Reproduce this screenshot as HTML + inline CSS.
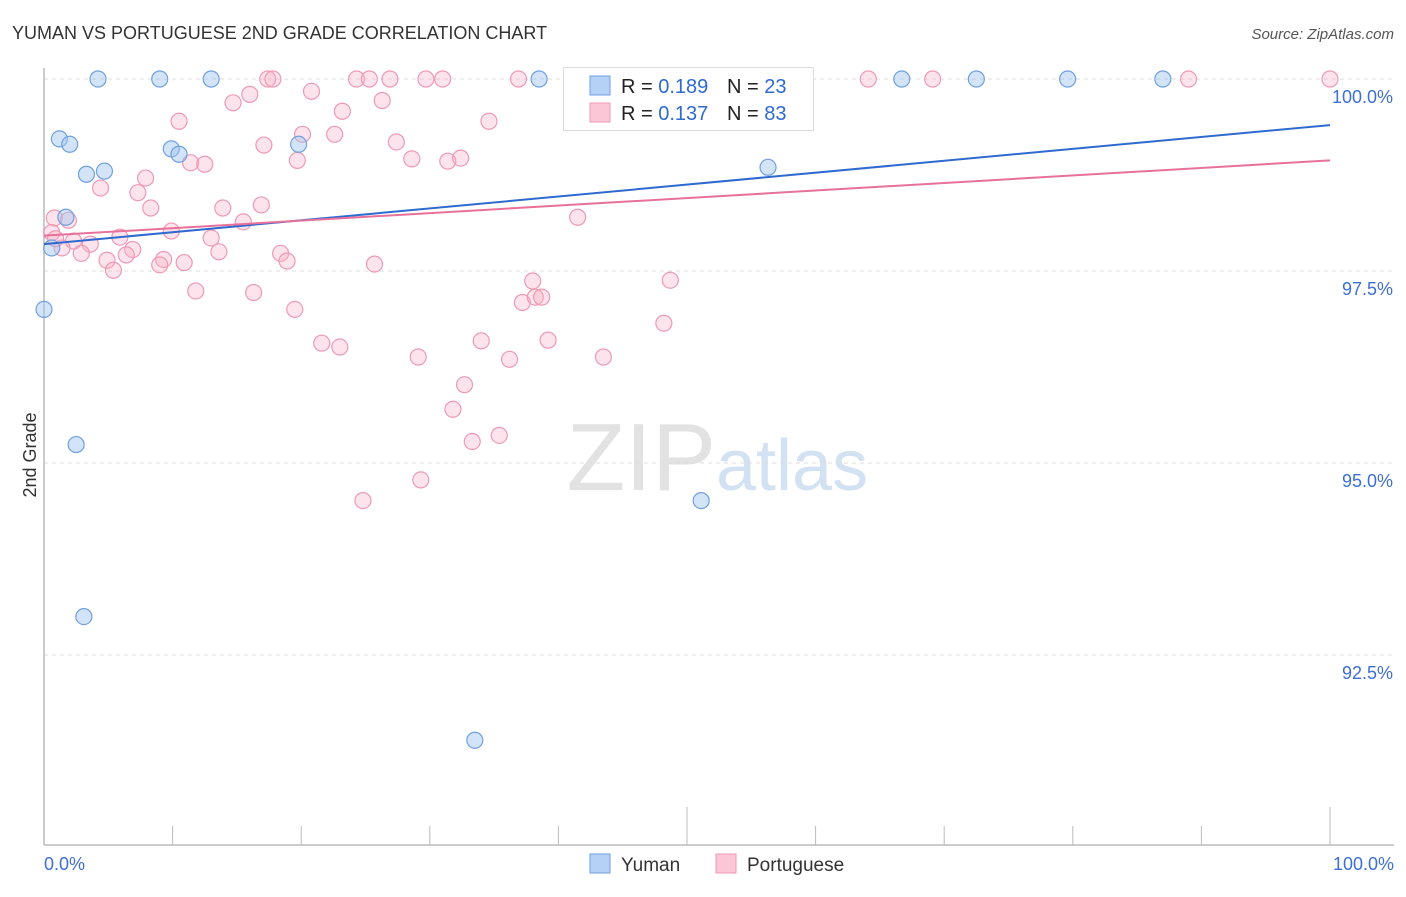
<!DOCTYPE html>
<html><head><meta charset="utf-8"><style>
body{margin:0;background:#fff;font-family:"Liberation Sans",sans-serif;}
svg text{font-family:"Liberation Sans",sans-serif;}
</style></head><body>
<svg id="chart" width="1406" height="892" viewBox="0 0 1406 892" xmlns="http://www.w3.org/2000/svg">
<text x="12" y="39" font-size="18" fill="#333">YUMAN VS PORTUGUESE 2ND GRADE CORRELATION CHART</text>
<text x="1394" y="39" font-size="15" fill="#555" font-style="italic" text-anchor="end">Source: ZipAtlas.com</text>
<text x="716" y="490" font-size="96" fill="#e2e2e2" text-anchor="end" font-family="Liberation Serif">ZIP</text>
<text x="716" y="490" font-size="72" fill="#d3e2f3">atlas</text>
<g id="grid"></g><g id="axes"></g><g id="pts"></g><g id="lines"></g>
<text x="36" y="455" font-size="18" fill="#333" text-anchor="middle" transform="rotate(-90 36 455)">2nd Grade</text>
<text x="44" y="870" font-size="18" fill="#3d6fd6">0.0%</text>
<text x="1394" y="870" font-size="18" fill="#3d6fd6" text-anchor="end">100.0%</text>
<g>
<rect x="563.5" y="67.5" width="250" height="63" fill="#fff" stroke="#ddd"/>
<rect x="590" y="76" width="20" height="19" fill="#b5d1f5" stroke="#6fa0e0"/>
<rect x="590" y="103" width="20" height="19" fill="#fbc7d6" stroke="#ee9ab5"/>
<text x="621" y="93" font-size="20" fill="#222">R = <tspan fill="#2f6ad0">0.189</tspan></text>
<text x="727" y="93" font-size="20" fill="#222">N = <tspan fill="#2f6ad0">23</tspan></text>
<text x="621" y="120" font-size="20" fill="#222">R = <tspan fill="#2f6ad0">0.137</tspan></text>
<text x="727" y="120" font-size="20" fill="#222">N = <tspan fill="#2f6ad0">83</tspan></text>
</g>
<g>
<rect x="590" y="854" width="20" height="19" fill="#b5d1f5" stroke="#6fa0e0"/>
<text x="621" y="871" font-size="19" fill="#333">Yuman</text>
<rect x="716" y="854" width="20" height="19" fill="#fbc7d6" stroke="#ee9ab5"/>
<text x="747" y="871" font-size="19" fill="#333">Portuguese</text>
</g>
</svg>
<script>
const yTicks=[100,97.5,95,92.5];
const yTickLabels=["100.0%","97.5%","95.0%","92.5%"];
const xTicks=[0,10,20,30,40,50,60,70,80,90,100];
const yumanX=[4.2,9.0,13.0,38.5,66.7,72.5,79.6,87.0,1.2,2.0,9.9,10.5,19.8,3.3,4.7,56.3,1.7,0.6,0,2.5,51.1,3.1,33.5];
const yumanY=[100,100,100,100,100,100,100,100,99.22,99.15,99.09,99.02,99.15,98.76,98.80,98.85,98.20,97.80,97.00,95.24,94.51,93.0,91.39];
const portX=[17.4,17.8,24.3,25.3,26.9,29.7,31.0,36.9,64.1,69.1,89.0,100,14.7,16.0,20.8,26.3,10.5,23.2,34.6,20.1,22.6,17.1,27.4,11.4,12.5,19.7,28.6,31.4,32.4,4.4,7.9,7.3,8.3,13.9,16.9,0.8,1.9,15.5,41.5,9.9,5.9,13.0,2.3,3.6,1.4,6.9,13.6,2.9,4.9,6.4,9.3,9.0,10.9,18.4,18.9,25.7,5.4,11.8,16.3,38.0,48.7,37.2,38.2,38.7,19.5,48.2,21.6,23.0,34.0,39.2,29.1,36.2,43.5,32.7,31.8,33.3,35.4,29.3,24.8,0.6,0.9];
const portY=[100,100,100,100,100,100,100,100,100,100,100,100,99.69,99.80,99.84,99.72,99.45,99.58,99.45,99.28,99.28,99.14,99.18,98.91,98.89,98.94,98.96,98.93,98.97,98.58,98.71,98.52,98.32,98.32,98.36,98.19,98.16,98.14,98.20,98.02,97.94,97.93,97.89,97.85,97.80,97.78,97.75,97.73,97.64,97.71,97.65,97.58,97.61,97.73,97.63,97.59,97.51,97.24,97.22,97.37,97.38,97.09,97.16,97.16,97.00,96.82,96.56,96.51,96.59,96.60,96.38,96.35,96.38,96.02,95.70,95.28,95.36,94.78,94.51,98.00,97.92];
const trendYuman=[97.85,99.40];
const trendPort=[97.96,98.94];
const NS='http://www.w3.org/2000/svg';
function sx(v){return 44+v/100*1286;}
function sy(v){return 79+(100-v)/2.5*192;}
function mk(tag,attrs,parent){const e=document.createElementNS(NS,tag);for(const k in attrs)e.setAttribute(k,attrs[k]);parent.appendChild(e);return e;}
const grid=document.getElementById('grid'),axes=document.getElementById('axes'),pts=document.getElementById('pts'),lines=document.getElementById('lines');
yTicks.forEach((t,i)=>{
 const l=mk('line',{x1:44,x2:1394,y1:sy(t),y2:sy(t),stroke:'#ddd','stroke-dasharray':'4,4'},grid);
 
 
 const tx=mk('text',{x:1393,y:sy(t)+24,'font-size':18,fill:'#3d6fd6','text-anchor':'end'},grid);
 tx.textContent=yTickLabels[i];
 
 
});
let ax=mk('line',{x1:44,x2:44,y1:68,y2:845,stroke:'#bbb','stroke-width':1.5},axes);


ax=mk('line',{x1:44,x2:1394,y1:845,y2:845,stroke:'#bbb','stroke-width':1.5},axes);


xTicks.forEach(t=>{
 const big=(t===50||t===100);
 const l=mk('line',{x1:sx(t),x2:sx(t),y1:big?807:826,y2:845,stroke:'#bbb'},axes);
 
 
});
portX.forEach((x,i)=>{
 const c=mk('circle',{cx:sx(x),cy:sy(portY[i]),r:8,fill:'rgba(248,175,198,0.35)',stroke:'#ee9ab5','stroke-width':1.2},pts);
 
 
});
yumanX.forEach((x,i)=>{
 const c=mk('circle',{cx:sx(x),cy:sy(yumanY[i]),r:8,fill:'rgba(160,195,240,0.45)',stroke:'#6fa0e0','stroke-width':1.2},pts);
 
 
});
let tl=mk('line',{x1:sx(0),y1:sy(trendYuman[0]),x2:sx(100),y2:sy(trendYuman[1]),stroke:'#2f6ad0','stroke-width':2},lines);


tl=mk('line',{x1:sx(0),y1:sy(trendPort[0]),x2:sx(100),y2:sy(trendPort[1]),stroke:'#e8719a','stroke-width':2},lines);


</script>
</body></html>
